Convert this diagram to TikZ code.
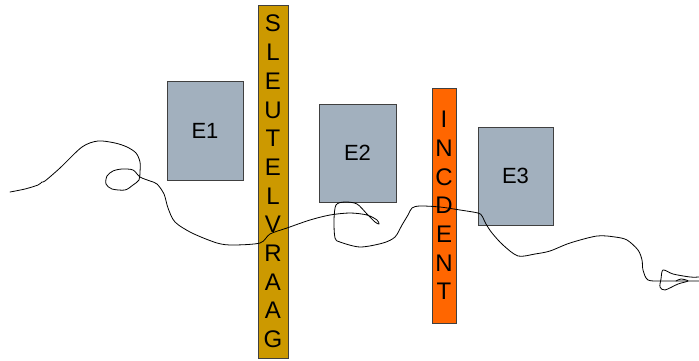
\documentclass[tikz,border=0pt]{standalone}
\usepackage{fontspec}
\setmainfont{Liberation Sans}
\tikzset{
  ebox/.style={draw=black!75, line width=0.8pt, fill=ebcol, inner sep=0pt, font=\fontsize{22}{26}\selectfont},
  barbox/.style={draw=black!75, line width=0.8pt, inner sep=0pt, align=center, font=\fontsize{24}{28.7}\selectfont},
  scribble/.style={draw=black, line width=0.8pt, line join=round, line cap=round}
}
\definecolor{ebcol}{HTML}{A2B0BE}
\definecolor{goldcol}{HTML}{CC9900}
\definecolor{orangecol}{HTML}{FF6600}
\begin{document}
\begin{tikzpicture}[x=1pt,y=-1pt]
\useasboundingbox (0,0) rectangle (699,361);
\node[ebox, minimum width=76pt, minimum height=99pt] (e1) at (205,130.5) {E1};
\node[ebox, minimum width=77pt, minimum height=98pt] (e2) at (357.5,153) {E2};
\node[ebox, minimum width=75pt, minimum height=98pt] (e3) at (515.5,176) {E3};
\node[barbox, fill=goldcol, minimum width=30pt, minimum height=353pt] (sv) at (273,181.5)
  {S\\L\\E\\U\\T\\E\\L\\V\\R\\A\\A\\G};
\node[barbox, fill=orangecol, minimum width=24pt, minimum height=235pt] (inc) at (444,205.5)
  {I\\N\\C\\D\\E\\N\\T};
\draw[scribble] plot[smooth, tension=0.5] coordinates {
(10,192) (25,189) (38,185) (42,182) (45,181) (60,168) (82,147) (98,141) (115,143) (127,147) (136,153) (140,162) (140,172) (139,180) (133,185) (125,190) (112,189) (106,184) (107,176) (113,171) (122,169) (133,170) (140,177) (150,181) (157,184) (164,194) (168,208) (175,222) (192,233) (217,243) (233,245) (260,243) (270,234) (287,228) (310,220) (330,215) (350,213) (367,215) (377,220) (379,224) (375,222) (367,214) (357,204) (345,202) (336,205) (334,220) (335,238) (340,242) (360,247) (383,243) (395,237) (402,225) (408,215) (412,208) (420,206) (440,207) (460,210) (478,213) (482,216) (486,224) (492,233) (503,245) (518,256) (535,254) (550,251) (570,243) (597,236) (615,237) (627,240) (638,250) (642,260) (643,270) (648,280) (663,281) (688,281) (699,281)};
\draw[scribble] plot[smooth, tension=0.5] coordinates {
(699,277) (690,277) (673,274) (663,270) (661,279) (660,287) (665,290) (678,284) (688,281) (681,279) (676,281)};
\end{tikzpicture}
\end{document}
